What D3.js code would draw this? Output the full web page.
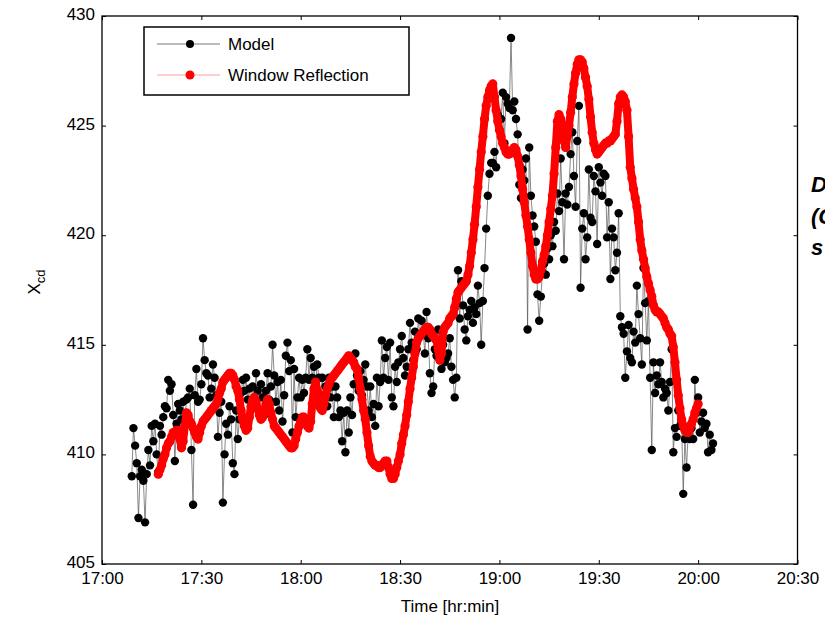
<!DOCTYPE html>
<html>
<head>
<meta charset="utf-8">
<script src="https://cdn.jsdelivr.net/npm/d3@7"></script>
<style>
  body { margin: 0; background: #fff; }
  svg { display: block; font-family: "Liberation Sans", Arial, sans-serif; }
  .tick line { stroke: #000; }
  .tick text { font-size: 17px; fill: #000; }
</style>
</head>
<body>
<svg></svg>
<script>
// minutes after 17:00, one sample every half minute
const sampleStep = 0.5;
const modelStart = 9;
const reflStart = 17;

const seriesNames = ['Model', 'Window Reflection'];
const xTickMinutes = [0, 30, 60, 90, 120, 150, 180, 210];
const xTickLabels = ['17:00', '17:30', '18:00', '18:30', '19:00', '19:30', '20:00', '20:30'];
const yTicks = [405, 410, 415, 420, 425, 430];
const sideNote = ['D', '(C', 's'];

const modelValues = [
  409.0, 411.2, 410.4, 409.6, 407.1, 409.0, 409.3, 408.8, 406.9, 409.1, // 9
  410.2, 409.5, 411.3, 410.6, 411.4, 410.0, 409.2, 411.3, 410.9, 411.7, // 14
  412.2, 412.1, 413.4, 412.9, 413.2, 411.8, 409.7, 411.4, 412.3, 412.0, // 19
  411.6, 412.4, 411.5, 412.5, 412.6, 413.0, 410.2, 407.7, 412.7, 413.9, // 24
  412.4, 412.5, 413.2, 415.3, 414.3, 413.7, 413.6, 412.6, 413.0, 414.1, // 29
  413.5, 412.7, 410.8, 411.9, 412.4, 407.8, 410.0, 411.4, 410.9, 412.2, // 34
  411.6, 409.6, 409.1, 412.0, 410.7, 411.6, 412.8, 413.4, 412.9, 413.5, // 39
  412.5, 413.0, 412.2, 413.1, 412.4, 413.7, 412.9, 411.9, 413.2, 412.6, // 44
  411.8, 412.9, 413.7, 412.5, 413.1, 415.0, 413.6, 412.4, 413.3, 412.0, // 49
  413.4, 411.5, 412.7, 414.5, 415.1, 413.8, 414.3, 411.0, 413.9, 411.7, // 54
  412.6, 413.5, 412.6, 413.4, 412.8, 413.5, 414.8, 413.4, 414.4, 413.5, // 59
  414.0, 413.3, 414.1, 413.5, 412.7, 413.5, 412.4, 413.1, 412.2, 413.5, // 64
  412.6, 413.1, 411.7, 413.1, 412.6, 411.7, 412.0, 410.6, 411.9, 410.1, // 69
  412.0, 411.0, 412.6, 411.8, 413.2, 414.6, 413.6, 412.9, 413.8, 412.7, // 74
  413.4, 414.1, 413.1, 412.0, 413.1, 411.7, 412.3, 411.3, 413.5, 412.2, // 79
  413.3, 415.2, 413.5, 414.4, 414.9, 413.4, 415.1, 412.6, 412.2, 414.0, // 84
  413.3, 414.2, 414.8, 415.4, 414.4, 413.6, 414.0, 414.8, 416.0, 415.1, // 89
  414.3, 415.6, 414.8, 416.2, 415.4, 416.1, 415.5, 414.6, 416.5, 415.3, // 94
  413.7, 412.8, 413.1, 414.8, 414.5, 415.7, 414.6, 413.9, 415.0, 414.2, // 99
  414.4, 414.6, 415.3, 414.0, 413.4, 412.6, 413.5, 418.4, 416.2, 417.9, // 104
  416.8, 415.7, 415.2, 416.3, 416.6, 417.0, 416.0, 416.7, 416.4, 417.7, // 109
  416.9, 415.0, 417.0, 418.5, 420.3, 421.8, 422.8, 423.3, 423.3, 423.8, // 114
  423.1, 425.5, 424.8, 425.3, 426.5, 424.2, 426.3, 426.0, 425.8, 429.0, // 119
  425.7, 426.1, 425.3, 424.6, 422.3, 421.7, 423.0, 422.5, 423.5, 415.7, // 124
  424.0, 421.8, 420.9, 420.4, 419.7, 417.3, 416.1, 417.2, 418.3, 418.7, // 129
  418.2, 419.4, 418.9, 420.0, 419.5, 420.6, 420.2, 421.9, 421.1, 423.5, // 134
  421.5, 418.9, 421.9, 421.4, 422.2, 423.7, 424.7, 422.7, 421.3, 424.3, // 139
  425.9, 417.6, 420.3, 421.0, 418.9, 419.9, 423.0, 420.8, 420.6, 422.7, // 144
  422.0, 419.6, 423.1, 422.4, 421.8, 422.8, 422.7, 419.9, 421.5, 418.0, // 149
  420.3, 419.9, 418.4, 419.2, 421.0, 416.3, 415.8, 415.5, 413.5, 414.7, // 154
  415.9, 414.4, 414.2, 415.6, 415.1, 417.7, 416.4, 415.3, 414.1, 418.5, // 159
  416.9, 415.2, 417.0, 413.5, 410.2, 414.2, 412.8, 413.6, 413.2, 414.2, // 164
  413.3, 412.6, 413.0, 412.8, 412.0, 413.3, 414.8, 410.1, 411.2, 410.8, // 169
  412.0, 411.3, 411.5, 408.2, 410.7, 409.4, 411.0, 410.7, 411.2, 410.7, // 174
  413.4, 411.9, 412.6, 411.0, 411.5, 411.9, 411.2, 411.4, 410.1, 410.9, // 179
  410.2, 410.5                                                          // 184
];

const reflValues = [
  409.1, 409.3, 409.5, 409.8, 410.0, 410.3, 410.5, 410.6, 410.8, 411.0, // 17
  411.0, 411.1, 411.1, 410.7, 410.3, 410.6, 411.3, 411.9, 411.8, 411.5, // 22
  411.4, 411.2, 411.0, 410.8, 410.7, 411.0, 411.3, 411.5, 411.6, 411.7, // 27
  411.8, 411.9, 412.0, 412.1, 412.2, 412.3, 412.5, 412.8, 413.0, 413.3, // 32
  413.4, 413.5, 413.6, 413.7, 413.7, 413.6, 413.4, 413.1, 412.9, 412.5, // 37
  412.0, 411.6, 411.3, 411.1, 411.2, 411.7, 412.2, 412.5, 412.6, 412.4, // 42
  412.1, 411.8, 411.6, 411.7, 412.0, 412.3, 412.5, 412.3, 411.9, 411.6, // 47
  411.3, 411.2, 411.1, 411.0, 410.9, 410.8, 410.7, 410.6, 410.5, 410.4, // 52
  410.3, 410.3, 410.4, 410.7, 411.0, 411.3, 411.5, 411.7, 411.7, 411.5, // 57
  411.3, 411.2, 411.5, 412.3, 413.0, 413.3, 412.9, 412.4, 412.1, 412.0, // 62
  412.3, 412.7, 413.0, 413.2, 413.4, 413.5, 413.6, 413.7, 413.8, 413.9, // 67
  414.0, 414.1, 414.2, 414.3, 414.4, 414.5, 414.4, 414.3, 414.2, 414.0, // 72
  413.9, 413.5, 413.0, 412.5, 412.0, 411.6, 411.0, 410.4, 409.9, 409.7, // 77
  409.6, 409.5, 409.5, 409.4, 409.4, 409.5, 409.6, 409.7, 409.7, 409.4, // 82
  409.1, 408.9, 408.9, 409.1, 409.4, 409.7, 410.0, 410.5, 410.9, 411.3, // 87
  411.8, 412.4, 413.0, 413.5, 414.0, 414.6, 415.1, 415.3, 415.4, 415.5, // 92
  415.6, 415.7, 415.8, 415.8, 415.7, 415.5, 415.4, 415.3, 415.2, 414.8, // 97
  414.3, 414.6, 415.6, 415.8, 415.9, 416.0, 416.2, 416.3, 416.4, 416.7, // 102
  417.1, 417.4, 417.5, 417.6, 417.7, 417.8, 417.9, 418.2, 418.6, 419.2, // 107
  419.8, 420.5, 421.3, 422.2, 423.0, 423.8, 424.5, 425.3, 425.9, 426.3, // 112
  426.6, 426.8, 426.9, 426.3, 425.7, 425.2, 424.8, 424.5, 424.2, 424.0, // 117
  423.8, 423.7, 423.7, 423.8, 423.9, 424.0, 423.9, 423.6, 423.2, 422.7, // 122
  422.1, 421.5, 420.9, 420.4, 419.8, 419.2, 418.6, 418.2, 418.0, 418.0, // 127
  418.1, 418.4, 418.8, 419.1, 419.5, 420.0, 420.6, 421.2, 421.8, 422.8, // 132
  424.0, 425.2, 425.5, 425.3, 425.0, 424.3, 424.0, 424.5, 425.0, 425.6, // 137
  426.3, 426.9, 427.4, 427.8, 428.0, 428.0, 427.9, 427.6, 427.2, 426.8, // 142
  426.2, 425.4, 424.7, 424.2, 423.9, 423.7, 423.8, 423.9, 424.0, 424.1, // 147
  424.2, 424.2, 424.3, 424.3, 424.4, 424.5, 424.6, 425.2, 426.0, 426.3, // 152
  426.4, 426.3, 426.1, 425.7, 424.5, 423.1, 422.6, 422.1, 421.7, 421.3, // 157
  420.6, 419.8, 419.3, 418.9, 418.5, 418.1, 417.8, 417.5, 417.2, 416.8, // 162
  416.6, 416.5, 416.5, 416.4, 416.3, 416.2, 416.0, 415.8, 415.7, 415.5, // 167
  415.4, 414.9, 414.2, 413.4, 412.7, 412.1, 411.6, 411.3, 411.1, 411.0, // 172
  411.0, 411.2, 411.4, 411.6, 411.9, 412.1, 412.3                       // 177
];

const width = 825;
const height = 618;
const plot = { left: 102, right: 797.5, top: 16, bottom: 564 };

const svg = d3.select('svg')
  .attr('width', width)
  .attr('height', height);

const xScale = d3.scaleLinear().domain([0, 210]).range([plot.left, plot.right]);
const yScale = d3.scaleLinear().domain([405, 430]).range([plot.bottom, plot.top]);

const toPoints = (values, start) => values.map((v, i) => ({ t: start + i * sampleStep, v }));
const model = toPoints(modelValues, modelStart);
const refl = toPoints(reflValues, reflStart);

// axes, ticks pointing inward like the original
const xLabel = m => xTickLabels[xTickMinutes.indexOf(m)];
svg.append('g')
  .attr('transform', `translate(0,${plot.bottom})`)
  .call(d3.axisBottom(xScale).tickValues(xTickMinutes).tickFormat(xLabel).tickSize(-4).tickPadding(8))
  .call(g => g.select('.domain').remove());
svg.append('g')
  .attr('transform', `translate(0,${plot.top})`)
  .call(d3.axisTop(xScale).tickValues(xTickMinutes).tickFormat('').tickSize(-4))
  .call(g => g.select('.domain').remove());
svg.append('g')
  .attr('transform', `translate(${plot.left},0)`)
  .call(d3.axisLeft(yScale).tickValues(yTicks).tickSize(-4).tickPadding(7))
  .call(g => g.select('.domain').remove())
  .call(g => g.selectAll('.tick text').attr('dy', '0.2em'));
svg.append('g')
  .attr('transform', `translate(${plot.right},0)`)
  .call(d3.axisRight(yScale).tickValues(yTicks).tickFormat('').tickSize(-4))
  .call(g => g.select('.domain').remove());

svg.append('rect')
  .attr('x', plot.left)
  .attr('y', plot.top)
  .attr('width', plot.right - plot.left)
  .attr('height', plot.bottom - plot.top)
  .attr('fill', 'none')
  .attr('stroke', '#000')
  .attr('stroke-width', 1.3);

const line = d3.line().x(d => xScale(d.t)).y(d => yScale(d.v));

// model: black dots, thin grey line
svg.append('path')
  .datum(model)
  .attr('d', line)
  .attr('fill', 'none')
  .attr('stroke', '#555')
  .attr('stroke-width', 0.7);
svg.append('g').selectAll('circle').data(model)
  .enter().append('circle')
    .attr('cx', d => xScale(d.t))
    .attr('cy', d => yScale(d.v))
    .attr('r', 4.2)
    .attr('fill', '#000');

// window reflection: markers so dense they merge into a band
svg.append('path')
  .datum(refl)
  .attr('d', line)
  .attr('fill', 'none')
  .attr('stroke', '#ff0000')
  .attr('stroke-width', 8)
  .attr('stroke-linejoin', 'round')
  .attr('stroke-linecap', 'round');
svg.append('g').selectAll('circle').data(refl)
  .enter().append('circle')
    .attr('cx', d => xScale(d.t))
    .attr('cy', d => yScale(d.v))
    .attr('r', 4.6)
    .attr('fill', '#ff0000');

// legend
const legend = svg.append('g').attr('transform', 'translate(144,27)');
legend.append('rect')
  .attr('width', 265)
  .attr('height', 68)
  .attr('fill', '#fff')
  .attr('stroke', '#000')
  .attr('stroke-width', 1.5);
const legendColors = [['#555', '#000', 4], ['#f88', '#ff0000', 4.5]];
seriesNames.forEach((name, i) => {
  const y = 17 + i * 31;
  legend.append('line')
    .attr('x1', 13).attr('x2', 76)
    .attr('y1', y).attr('y2', y)
    .attr('stroke', legendColors[i][0])
    .attr('stroke-width', 0.8);
  legend.append('circle')
    .attr('cx', 46).attr('cy', y)
    .attr('r', legendColors[i][2])
    .attr('fill', legendColors[i][1]);
  legend.append('text')
    .attr('x', 84).attr('y', y + 6)
    .attr('font-size', 17)
    .text(name);
});

// axis titles
svg.append('text')
  .attr('x', 450).attr('y', 612)
  .attr('text-anchor', 'middle')
  .attr('font-size', 17)
  .text('Time [hr:min]');

const yTitle = svg.append('text')
  .attr('transform', 'translate(40,282) rotate(-90)')
  .attr('text-anchor', 'middle')
  .attr('font-size', 17);
yTitle.append('tspan').text('X');
yTitle.append('tspan').attr('dy', 5).attr('font-size', 13).text('cd');

// clipped note at the right edge
sideNote.forEach((s, i) => {
  svg.append('text')
    .attr('x', 811)
    .attr('y', 192 + i * 31.5)
    .attr('font-size', 22)
    .attr('font-weight', 'bold')
    .attr('font-style', 'italic')
    .text(s);
});
</script>
</body>
</html>
